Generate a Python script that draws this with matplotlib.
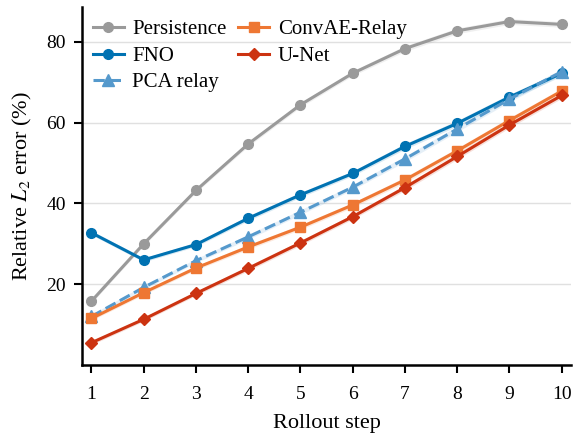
import matplotlib
matplotlib.use("Agg")
import matplotlib.pyplot as plt
import numpy as np

steps = [1, 2, 3, 4, 5, 6, 7, 8, 9, 10]
persistence = [15.8, 30.0, 43.2, 54.7, 64.4, 72.2, 78.3, 82.7, 85.0, 84.3]
fno = [32.7, 26.0, 29.8, 36.3, 42.1, 47.4, 54.1, 59.8, 66.3, 72.2]
pca_relay = [12.0, 19.2, 25.8, 31.7, 37.8, 44.0, 51.0, 58.4, 65.8, 72.6]
convae_relay = [11.5, 17.9, 24.0, 29.2, 34.1, 39.6, 45.8, 53.0, 60.5, 67.8]
unet = [5.5, 11.3, 17.7, 23.9, 30.2, 36.7, 43.9, 51.6, 59.4, 66.7]
band = [0.5, 0.5, 0.5, 0.6, 0.6, 0.6, 0.7, 0.7, 0.7, 0.7]

plt.rcParams['font.family'] = ['Liberation Serif', 'DejaVu Serif']
plt.rcParams['mathtext.fontset'] = 'stix'

fig, ax = plt.subplots(figsize=(5.74, 4.36), dpi=100)

series = [
    ("Persistence", persistence, "#9a9a9a", "o", "-", 7),
    ("FNO", fno, "#0072B2", "o", "-", 7),
    ("PCA relay", pca_relay, "#5599CC", "^", "--", 8),
    ("ConvAE-Relay", convae_relay, "#EE7733", "s", "-", 7),
    ("U-Net", unet, "#CC3311", "D", "-", 6.5),
]
x = np.array(steps)
b = np.array(band)
for name, vals, col, mk, ls, ms in series:
    v = np.array(vals)
    ax.fill_between(x, v - b, v + b, color=col, alpha=0.15, linewidth=0)
    ax.plot(x, v, color=col, marker=mk, linestyle=ls, linewidth=2.2,
            markersize=ms, label=name)

ax.set_xlim(0.82, 10.18)
ax.set_ylim(0, 88.5)
ax.set_xticks(steps)
ax.set_yticks([20, 40, 60, 80])
ax.yaxis.grid(True, color="#e0e0e0", linewidth=1.0)
ax.set_axisbelow(True)
for s in ["top", "right"]:
    ax.spines[s].set_visible(False)
for s in ["left", "bottom"]:
    ax.spines[s].set_linewidth(1.8)
ax.tick_params(axis="both", which="major", labelsize=14, length=6, width=1.5,
               direction="out")
ax.tick_params(axis="x", pad=9)
ax.tick_params(axis="y", pad=5.5)
ax.set_xlabel("Rollout step", fontsize=16, labelpad=8)
ax.set_ylabel(r"Relative $L_2$ error (%)", fontsize=16, labelpad=9)

ax.legend(ncol=2, loc="upper left", bbox_to_anchor=(-0.004, 1.0),
          frameon=False, fontsize=15,
          handlelength=1.5, columnspacing=0.55, labelspacing=0.33,
          borderaxespad=0.2, handletextpad=0.4)

fig.subplots_adjust(left=0.143, right=0.995, top=0.983, bottom=0.163)
fig.savefig("out.png", dpi=100)
